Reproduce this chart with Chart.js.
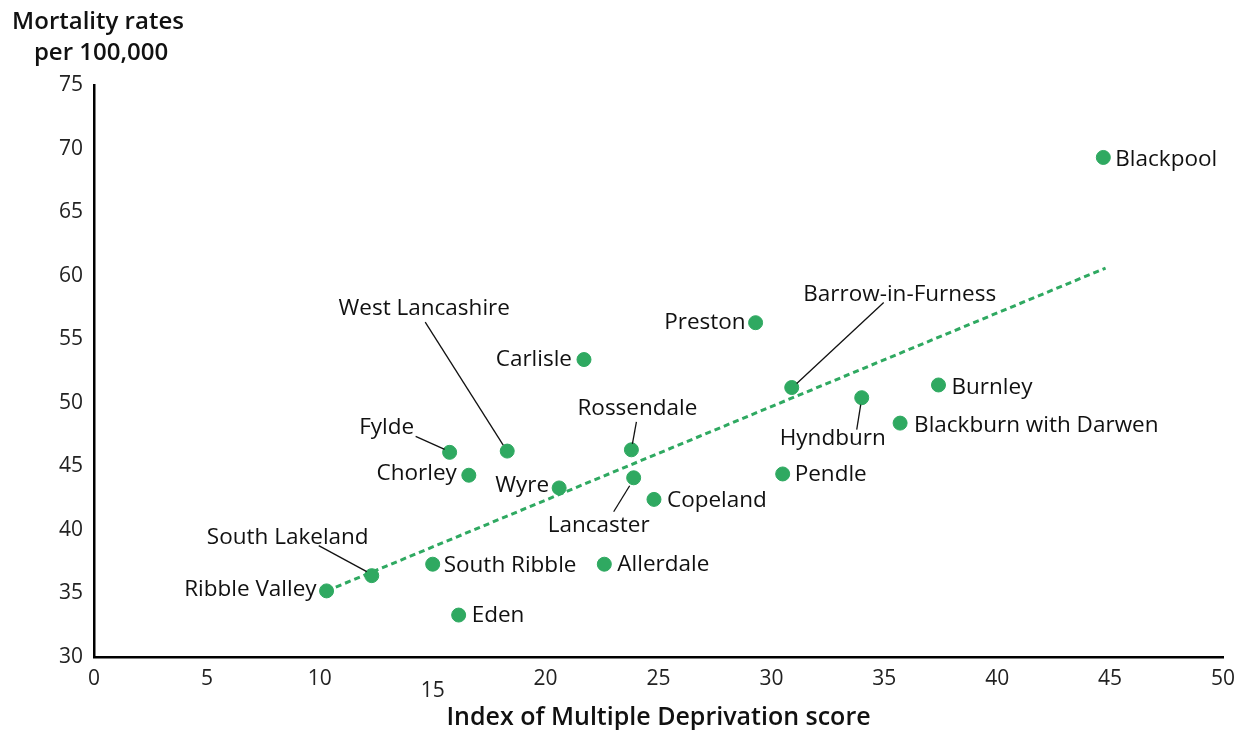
<!DOCTYPE html>
<html>
<head>
<meta charset="utf-8">
<script src="https://cdn.jsdelivr.net/npm/chart.js@4.4.1/dist/chart.umd.min.js"></script>
<style>
  html, body { margin: 0; padding: 0; background: #fff; }
  #wrap { width: 1242px; height: 730px; position: relative; }
</style>
</head>
<body>
<div id="wrap"><canvas id="chart" width="1242" height="730"></canvas></div>
<script>
// values
const districts = ['Blackpool', 'Preston', 'Carlisle', 'Barrow-in-Furness', 'Burnley', 'Hyndburn',
  'Blackburn with Darwen', 'West Lancashire', 'Fylde', 'Rossendale', 'Chorley', 'Pendle', 'Lancaster',
  'Wyre', 'Copeland', 'South Ribble', 'Allerdale', 'South Lakeland', 'Ribble Valley', 'Eden'];
const imdScores = [44.7, 29.3, 21.7, 30.9, 37.4, 34.0, 35.7, 18.3, 15.75, 23.8, 16.6, 30.5, 23.9,
  20.6, 24.8, 15.0, 22.6, 12.3, 10.3, 16.15];
const mortalityRates = [69.3, 56.3, 53.4, 51.2, 51.4, 50.4, 48.4, 46.2, 46.1, 46.3, 44.3, 44.4, 44.1,
  43.3, 42.4, 37.3, 37.3, 36.4, 35.2, 33.3];
const trendX = [10.3, 44.8];
const trendY = [35.2, 60.6];
const xTicks = [0, 5, 10, 15, 20, 25, 30, 35, 40, 45, 50];
const yTicks = [30, 35, 40, 45, 50, 55, 60, 65, 70, 75];

const green = '#2fa961';
const fontFamily = '"Open Sans", "Noto Sans", sans-serif';

// label placement relative to the point: [dx, dy, align, leader [x1, y1, x2, y2] or null]
const labelPlacement = {
  'Blackpool': [12, 2, 'left', null],
  'Preston': [-10, 0, 'right', null],
  'Carlisle': [-12, 0, 'right', null],
  'Barrow-in-Furness': [108, -93, 'center', [5, -4, 92, -85]],
  'Burnley': [13, 3, 'left', null],
  'Hyndburn': [-29, 41, 'center', [-1, 7, -5, 32]],
  'Blackburn with Darwen': [14, 2, 'left', null],
  'West Lancashire': [-83, -142, 'center', [-4, -6, -82, -129]],
  'Fylde': [-63, -25, 'center', [-5, -3, -34, -16]],
  'Rossendale': [6, -41, 'center', [1, -6, 5, -28]],
  'Chorley': [-12, -2, 'right', null],
  'Pendle': [12, 1, 'left', null],
  'Lancaster': [-35, 48, 'center', [-4, 8, -20, 34]],
  'Wyre': [-10, -2, 'right', null],
  'Copeland': [13, 1, 'left', null],
  'South Ribble': [11, 1, 'left', null],
  'Allerdale': [13, 0, 'left', null],
  'South Lakeland': [-84, -38, 'center', [-5, -4, -53, -30]],
  'Ribble Valley': [-10, -1, 'right', null],
  'Eden': [13, 1, 'left', null]
};

const pointLabels = {
  id: 'pointLabels',
  afterDatasetsDraw(chart) {
    const { ctx } = chart;
    const meta = chart.getDatasetMeta(1);
    ctx.save();
    ctx.font = '500 22.5px ' + fontFamily;
    ctx.fillStyle = '#111';
    ctx.strokeStyle = '#111';
    ctx.lineWidth = 1.3;
    ctx.textBaseline = 'middle';
    meta.data.forEach((pt, i) => {
      const place = labelPlacement[districts[i]];
      if (!place) return;
      const [dx, dy, align, leader] = place;
      if (leader) {
        ctx.beginPath();
        ctx.moveTo(pt.x + leader[0], pt.y + leader[1]);
        ctx.lineTo(pt.x + leader[2], pt.y + leader[3]);
        ctx.stroke();
      }
      ctx.textAlign = align;
      ctx.fillText(districts[i], pt.x + dx, pt.y + dy);
    });
    ctx.restore();
  }
};

const yTitle = {
  id: 'yTitle',
  afterDraw(chart) {
    const { ctx } = chart;
    ctx.save();
    ctx.font = '600 24px ' + fontFamily;
    ctx.fillStyle = '#111';
    ctx.textAlign = 'center';
    ctx.textBaseline = 'middle';
    ctx.fillText('Mortality rates', 98, 22);
    ctx.fillText('per 100,000', 101, 53);
    ctx.restore();
  }
};

new Chart(document.getElementById('chart'), {
  type: 'scatter',
  data: {
    datasets: [
      {
        type: 'line',
        data: trendX.map((x, i) => ({ x, y: trendY[i] })),
        borderColor: green,
        borderWidth: 3,
        borderDash: [6, 4],
        pointRadius: 0,
        fill: false
      },
      {
        data: imdScores.map((x, i) => ({ x, y: mortalityRates[i] })),
        backgroundColor: green,
        borderColor: green,
        pointRadius: 7,
        pointHoverRadius: 7
      }
    ]
  },
  options: {
    responsive: false,
    animation: false,
    layout: { autoPadding: false, padding: { top: 85, right: 19, left: 0, bottom: 0 } },
    plugins: {
      legend: { display: false },
      tooltip: { enabled: false }
    },
    scales: {
      x: {
        type: 'linear',
        min: 0,
        max: 50,
        afterBuildTicks: (scale) => { scale.ticks = xTicks.map((v) => ({ value: v })); },
        afterFit: (scale) => {
          scale.height = 73;
          scale.paddingLeft = 0;
          scale.paddingRight = 0;
        },
        grid: { display: false, drawTicks: false },
        border: { display: true, color: '#000', width: 2.5 },
        ticks: {
          color: '#222',
          padding: 16,
          maxRotation: 0,
          autoSkip: false,
          font: { family: fontFamily, size: 21, lineHeight: '12px' },
          callback: (v) => (v === 15 ? ['', '15'] : String(v))
        },
        title: {
          display: true,
          text: 'Index of Multiple Deprivation score',
          color: '#111',
          padding: { top: 0, bottom: 0 },
          font: { family: fontFamily, size: 25, weight: '600', lineHeight: 1 }
        }
      },
      y: {
        type: 'linear',
        min: 30,
        max: 75,
        afterBuildTicks: (scale) => { scale.ticks = yTicks.map((v) => ({ value: v })); },
        afterFit: (scale) => { scale.width = 94; },
        grid: { display: false, drawTicks: false },
        border: { display: true, color: '#000', width: 2.5 },
        ticks: {
          color: '#222',
          padding: 11,
          font: { family: fontFamily, size: 21 }
        }
      }
    }
  },
  plugins: [pointLabels, yTitle]
});
</script>
</body>
</html>
